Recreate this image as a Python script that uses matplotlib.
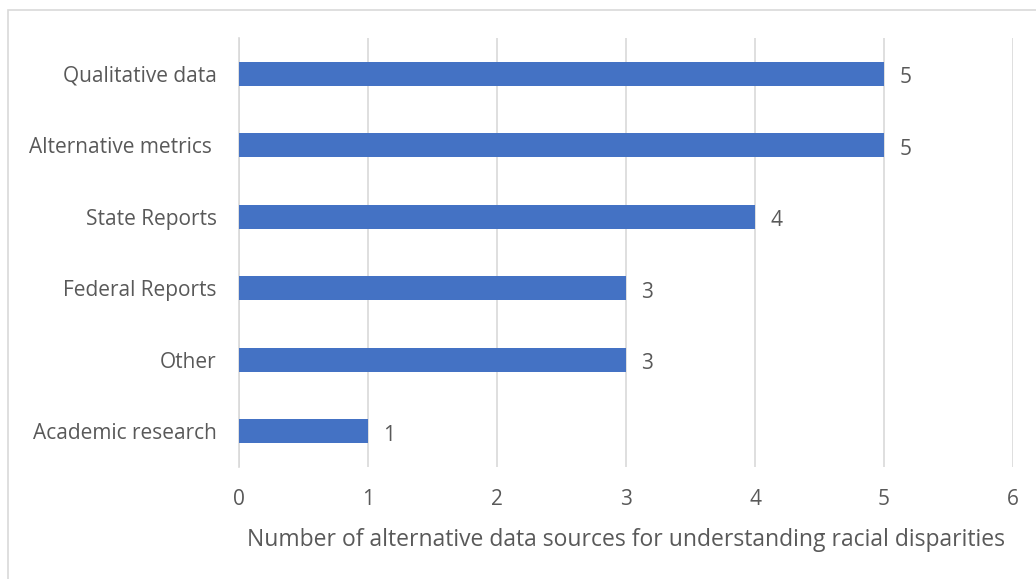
import matplotlib.pyplot as plt
from matplotlib.patches import Rectangle

# data (bottom to top)
categories = ['Academic research', 'Other', 'Federal Reports', 'State Reports',
              'Alternative metrics ', 'Qualitative data']
values = [1, 3, 3, 4, 5, 5]
xticks = [0, 1, 2, 3, 4, 5, 6]

plt.rcParams['font.family'] = ['Open Sans', 'DejaVu Sans']
txt = '#595959'

fig = plt.figure(figsize=(10.36, 5.79), dpi=100)
ax = fig.add_axes([239 / 1036, 1 - 467 / 579, (1013 - 239) / 1036, (467 - 38) / 579])

# outer chart border
fig.patches.append(Rectangle((8 / 1036, -0.05), 1.1, 1 - 10 / 579 + 0.05,
                             transform=fig.transFigure, fill=False,
                             edgecolor='#d9d9d9', linewidth=1.2))

bars = ax.barh(range(len(categories)), values, height=0.34, color='#4472C4', zorder=3)
for b, v in zip(bars, values):
    ax.text(v + 0.12, b.get_y() + b.get_height() / 2 - 0.02, str(v), va='center_baseline',
            ha='left', fontsize=15, color=txt)

ax.set_xlim(0, 6)
ax.set_ylim(-0.5, 5.5)
ax.set_xticks(xticks)
ax.set_yticks(range(len(categories)))
ax.set_yticklabels(categories)
ax.xaxis.grid(True, color='#d9d9d9', linewidth=1.2, zorder=0)
ax.tick_params(axis='both', length=0, labelsize=15, colors=txt)
ax.tick_params(axis='x', pad=15.5)
ax.tick_params(axis='y', pad=16)
for s in ['top', 'right', 'bottom']:
    ax.spines[s].set_visible(False)
ax.spines['left'].set_color('#d9d9d9')
ax.spines['left'].set_linewidth(1.2)
ax.set_xlabel('Number of alternative data sources for understanding racial disparities',
              fontsize=16.5, color=txt, labelpad=13)

fig.savefig('out.png', dpi=100)
